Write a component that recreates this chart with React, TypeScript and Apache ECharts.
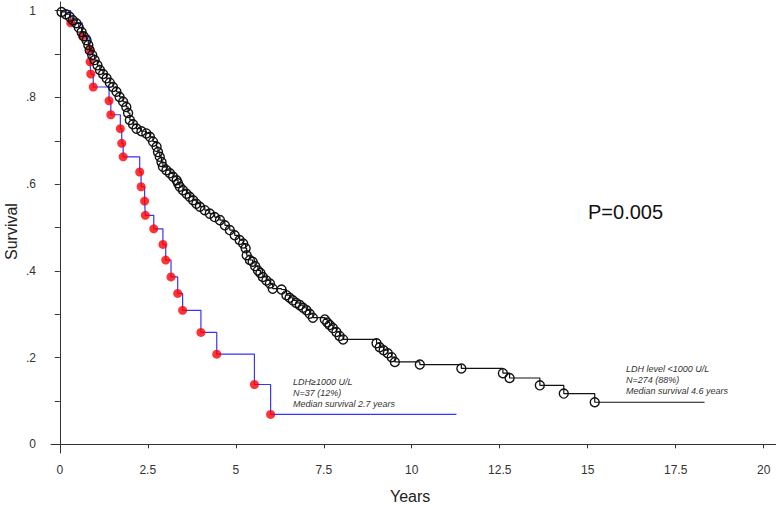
import React, { useEffect, useRef } from "react";
import * as echarts from "echarts";

// Axis ticks / labels
const xLabelValues = [0, 2.5, 5, 7.5, 10, 12.5, 15, 17.5, 20];
const yLabelValues = [0, 0.2, 0.4, 0.6, 0.8, 1];
const yTickValues = [0, 0.1, 0.2, 0.3, 0.4, 0.5, 0.6, 0.7, 0.8, 0.9, 1];

// LDH >= 1000 U/L group (events, red dots)
const highTimes = [0.31, 0.64, 0.85, 0.86, 0.88, 0.95, 1.4, 1.45, 1.72, 1.76, 1.8, 2.27, 2.31, 2.41, 2.43, 2.67, 2.93, 3.01, 3.16, 3.35, 3.49, 4.01, 4.46, 5.53, 5.99];
const highSurv = [0.972, 0.942, 0.911, 0.882, 0.854, 0.824, 0.792, 0.76, 0.728, 0.694, 0.663, 0.628, 0.594, 0.561, 0.528, 0.497, 0.461, 0.425, 0.386, 0.348, 0.309, 0.258, 0.208, 0.138, 0.069];
const highLastFollowUp = 11.27;

// LDH level < 1000 U/L group (circles)
const lowTimes = [0.05, 0.17, 0.28, 0.37, 0.47, 0.54, 0.62, 0.68, 0.76, 0.81, 0.85, 0.92, 0.99, 1.07, 1.14, 1.23, 1.33, 1.42, 1.51, 1.61, 1.7, 1.8, 1.89, 1.94, 1.99, 2.08, 2.18, 2.32, 2.46, 2.56, 2.65, 2.75, 2.79, 2.84, 2.89, 2.93, 3.03, 3.13, 3.22, 3.32, 3.36, 3.41, 3.5, 3.6, 3.69, 3.79, 3.88, 3.98, 4.12, 4.26, 4.4, 4.55, 4.69, 4.83, 4.97, 5.11, 5.21, 5.28, 5.31, 5.4, 5.48, 5.55, 5.63, 5.7, 5.77, 5.87, 5.97, 6.05, 6.3, 6.44, 6.53, 6.62, 6.72, 6.82, 6.91, 7.01, 7.1, 7.19, 7.53, 7.6, 7.67, 7.76, 7.86, 7.95, 8.05, 9.0, 9.09, 9.2, 9.32, 9.43, 9.52, 10.23, 11.41, 12.59, 12.78, 13.64, 14.32, 15.2];
const lowSurv = [0.997, 0.992, 0.986, 0.978, 0.971, 0.961, 0.951, 0.941, 0.932, 0.921, 0.909, 0.898, 0.886, 0.874, 0.863, 0.854, 0.844, 0.834, 0.824, 0.813, 0.801, 0.79, 0.778, 0.764, 0.748, 0.738, 0.728, 0.722, 0.717, 0.709, 0.698, 0.686, 0.674, 0.663, 0.651, 0.64, 0.632, 0.625, 0.617, 0.609, 0.602, 0.594, 0.586, 0.578, 0.571, 0.563, 0.555, 0.548, 0.54, 0.532, 0.524, 0.517, 0.505, 0.494, 0.482, 0.471, 0.463, 0.452, 0.436, 0.425, 0.421, 0.411, 0.401, 0.395, 0.386, 0.378, 0.371, 0.359, 0.357, 0.344, 0.338, 0.332, 0.326, 0.321, 0.315, 0.309, 0.301, 0.292, 0.288, 0.281, 0.275, 0.268, 0.259, 0.25, 0.242, 0.233, 0.224, 0.217, 0.21, 0.201, 0.19, 0.184, 0.175, 0.164, 0.153, 0.136, 0.117, 0.097];
const lowLastFollowUp = 18.32;

const highNote = ["LDH\u22651000 U/L", "N=37 (12%)", "Median survival 2.7 years"];
const lowNote = ["LDH level <1000 U/L", "N=274 (88%)", "Median survival 4.6 years"];
const pValueText = "P=0.005";

const FONT = "'Liberation Sans', Arial, sans-serif";

export default function App() {
  const ref = useRef<HTMLDivElement | null>(null);

  useEffect(() => {
    if (!ref.current) return;
    const chart = echarts.init(ref.current, null, { renderer: "svg" });

    const highEvents = highTimes.map((t, i) => [t, highSurv[i]]);
    const highLine: any[] = [
      { value: [0, 1] },
      ...highEvents.map((p) => ({ value: p })),
      { value: [highLastFollowUp, highSurv[highSurv.length - 1]] },
    ];
    const lowLine: any[] = [
      { value: [0, 1], symbol: "none" },
      ...lowTimes.map((t, i) => ({ value: [t, lowSurv[i]] })),
      { value: [lowLastFollowUp, lowSurv[lowSurv.length - 1]], symbol: "none" },
    ];

    const noteStyle = (lines: string[], x: number, y: number) =>
      lines.map((s, i) => ({
        type: "text",
        left: x,
        top: y + i * 11,
        style: {
          text: s,
          fontSize: 9,
          fontStyle: "italic",
          fontFamily: FONT,
          fill: "#333",
        },
      }));

    chart.setOption({
      animation: false,
      backgroundColor: "#fff",
      grid: { left: 51, top: 2, right: 0, bottom: 52, containLabel: false },
      xAxis: {
        type: "value",
        min: -0.25,
        max: 20.35,
        splitLine: { show: false },
        axisLine: { show: true, lineStyle: { color: "#333", width: 1 } },
        axisTick: { show: true, customValues: xLabelValues, length: 4, lineStyle: { color: "#333" } },
        axisLabel: {
          customValues: xLabelValues,
          margin: 11,
          fontSize: 12,
          color: "#333",
          fontFamily: FONT,
          formatter: (v: number) => String(v),
        },
      },
      yAxis: {
        type: "value",
        min: -0.02,
        max: 1.02,
        splitLine: { show: false },
        axisLine: { show: true, lineStyle: { color: "#333", width: 1 } },
        axisTick: { show: true, customValues: yTickValues, length: 5, lineStyle: { color: "#333" } },
        axisLabel: {
          customValues: yLabelValues,
          margin: 15,
          fontSize: 12,
          color: "#333",
          fontFamily: FONT,
          formatter: (v: number) => (v === 0 ? "0" : v === 1 ? "1" : String(v).replace(/^0/, "")),
        },
      },
      series: [
        {
          name: "LDH>=1000",
          type: "line",
          step: "end",
          data: highLine,
          showSymbol: false,
          lineStyle: { color: "#3535ff", width: 1.2 },
          itemStyle: { color: "#3535ff" },
          z: 2,
        },
        {
          name: "LDH>=1000 events",
          type: "scatter",
          data: highEvents,
          symbol: "circle",
          symbolSize: 9,
          itemStyle: { color: "#ff0000" },
          z: 3,
        },
        {
          name: "LDH<1000",
          type: "line",
          step: "end",
          data: lowLine,
          showSymbol: true,
          showAllSymbol: true,
          symbol: "circle",
          symbolSize: 9,
          lineStyle: { color: "#111", width: 1.2 },
          itemStyle: { color: "rgba(0,0,0,0)", borderColor: "#111", borderWidth: 1.4 },
          z: 4,
        },
      ],
      graphic: [
        {
          type: "text",
          left: 390,
          top: 488,
          style: { text: "Years", fontSize: 16, fontFamily: FONT, fill: "#222" },
        },
        {
          type: "text",
          x: 3,
          y: 260,
          rotation: Math.PI / 2,
          style: { text: "Survival", fontSize: 16, fontFamily: FONT, fill: "#222" },
        },
        {
          type: "text",
          left: 588,
          top: 202,
          style: { text: pValueText, fontSize: 20, fontFamily: FONT, fill: "#111" },
        },
        ...noteStyle(highNote, 293, 377),
        ...noteStyle(lowNote, 626, 364),
      ],
    });

    return () => chart.dispose();
  }, []);

  return (
    <div
      ref={ref}
      style={{ position: "absolute", left: 0, top: 0, width: 776, height: 505 }}
    />
  );
}
